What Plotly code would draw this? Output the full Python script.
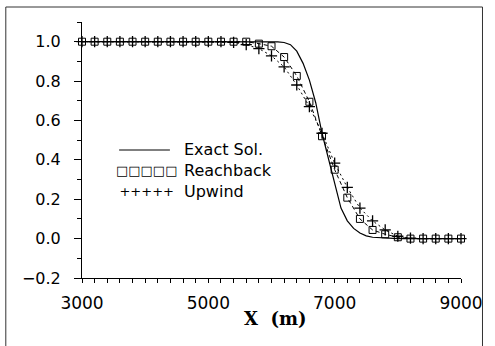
import plotly.graph_objects as go

# ---- data ----
x_nodes = [3000, 3200, 3400, 3600, 3800, 4000, 4200, 4400, 4600, 4800,
           5000, 5200, 5400, 5600, 5800, 6000, 6200, 6400, 6600, 6800,
           7000, 7200, 7400, 7600, 7800, 8000, 8200, 8400, 8600, 8800, 9000]

reachback = [1.0, 1.0, 1.0, 1.0, 1.0, 1.0, 1.0, 1.0, 1.0, 1.0,
             1.0, 1.0, 1.0, 1.0, 0.99, 0.977, 0.922, 0.826, 0.695, 0.52,
             0.35, 0.208, 0.10, 0.044, 0.022, 0.007, 0.0, 0.0, 0.0, 0.0, 0.0]

upwind = [1.0, 1.0, 1.0, 1.0, 1.0, 1.0, 1.0, 1.0, 1.0, 1.0,
          1.0, 1.0, 0.997, 0.985, 0.965, 0.928, 0.872, 0.78, 0.67, 0.535,
          0.383, 0.26, 0.155, 0.09, 0.044, 0.012, 0.002, 0.0, 0.0, 0.0, 0.0]

exact_x = [3000, 4000, 5000, 5800, 6000, 6100, 6200, 6300, 6400, 6500,
           6600, 6700, 6800, 6900, 7000, 7100, 7200, 7300, 7400, 7500,
           7600, 7800, 8000, 9000]
exact_y = [1.0, 1.0, 1.0, 1.0, 1.0, 0.999, 0.996, 0.985, 0.952, 0.89,
           0.805, 0.69, 0.535, 0.41, 0.27, 0.155, 0.09, 0.052, 0.028, 0.014,
           0.007, 0.002, 0.0, 0.0]

x_tickvals = [3000, 5000, 7000, 9000]
y_tickvals = [-0.2, 0.0, 0.2, 0.4, 0.6, 0.8, 1.0]
y_ticktext = ["\u22120.2", "0.0", "0.2", "0.4", "0.6", "0.8", "1.0"]

legend_labels = ["Exact Sol.", "Reachback", "Upwind"]

fig = go.Figure()

fig.add_trace(go.Scatter(
    x=exact_x, y=exact_y, mode="lines", name=legend_labels[0],
    line=dict(color="black", width=1.2), cliponaxis=False, showlegend=False))

fig.add_trace(go.Scatter(
    x=x_nodes, y=reachback, mode="lines+markers", name=legend_labels[1],
    line=dict(color="black", width=1, dash="4px,3px"),
    marker=dict(symbol="square-open", size=7, color="black",
                line=dict(width=1, color="black")),
    cliponaxis=False, showlegend=False))

fig.add_trace(go.Scatter(
    x=x_nodes, y=upwind, mode="lines+markers", name=legend_labels[2],
    line=dict(color="black", width=1, dash="2px,3px"),
    marker=dict(symbol="cross-thin-open", size=8, color="black",
                line=dict(width=1.3, color="black")),
    cliponaxis=False, showlegend=False))

fig.update_xaxes(
    range=[3000, 9000], tickvals=x_tickvals,
    showline=True, linecolor="black", linewidth=1,
    ticks="outside", ticklen=4, tickwidth=1, tickcolor="black",
    minor=dict(dtick=200, tick0=3000, ticks="outside", ticklen=4,
               tickwidth=1, tickcolor="black", showgrid=False),
    showgrid=False, zeroline=False,
    tickfont=dict(family="DejaVu Sans", size=17, color="black"),
    ticklabelstandoff=6)

fig.update_yaxes(
    range=[-0.2, 1.1], tickvals=y_tickvals, ticktext=y_ticktext,
    showline=True, linecolor="black", linewidth=1,
    ticks="outside", ticklen=7, tickwidth=1, tickcolor="black",
    minor=dict(dtick=0.1, tick0=-0.2, ticks="outside", ticklen=4,
               tickwidth=1, tickcolor="black", showgrid=False),
    showgrid=False, zeroline=False,
    tickfont=dict(family="DejaVu Sans", size=16, color="black"),
    ticklabelstandoff=10)

PL, PR, PT, PB = 82, 470, 22, 278
W, H = 495, 346


def px_x(p):
    return (p - PL) / (PR - PL)


def px_y(p):
    return (PB - p) / (PB - PT)


annotations = [
    dict(text="X  (m)", x=px_x(280), y=px_y(318), xref="paper", yref="paper",
         xanchor="center", yanchor="middle", showarrow=False,
         font=dict(family="DejaVu Serif", size=18, color="black", weight="bold")),
    # legend labels (one block)
    dict(text="<br>".join(legend_labels), x=px_x(184), y=px_y(170),
         xref="paper", yref="paper", xanchor="left", yanchor="middle",
         align="left", showarrow=False,
         font=dict(family="DejaVu Sans", size=16, color="black")),
    # legend keys for the marker series (one block)
    dict(text="<span style='font-size:13px'>\u25a1\u25a1\u25a1\u25a1\u25a1</span><br>"
              "<span style='font-size:13px'>+++++</span>",
         x=px_x(148), y=px_y(181), xref="paper", yref="paper",
         xanchor="center", yanchor="middle", align="center", showarrow=False,
         font=dict(family="DejaVu Sans", size=16, color="#000000")),
]

shapes = [
    dict(type="line", xref="paper", yref="paper",
         x0=px_x(120), x1=px_x(172), y0=px_y(150), y1=px_y(150),
         line=dict(color="black", width=1)),
    dict(type="rect", xref="paper", yref="paper",
         x0=px_x(4), x1=px_x(492), y0=px_y(360), y1=px_y(7),
         line=dict(color="#333333", width=1)),
]

fig.update_layout(
    width=W, height=H,
    margin=dict(l=PL, r=W - PR, t=PT, b=H - PB),
    paper_bgcolor="white", plot_bgcolor="white",
    showlegend=False,
    annotations=annotations, shapes=shapes)

fig.write_html("out.html")
